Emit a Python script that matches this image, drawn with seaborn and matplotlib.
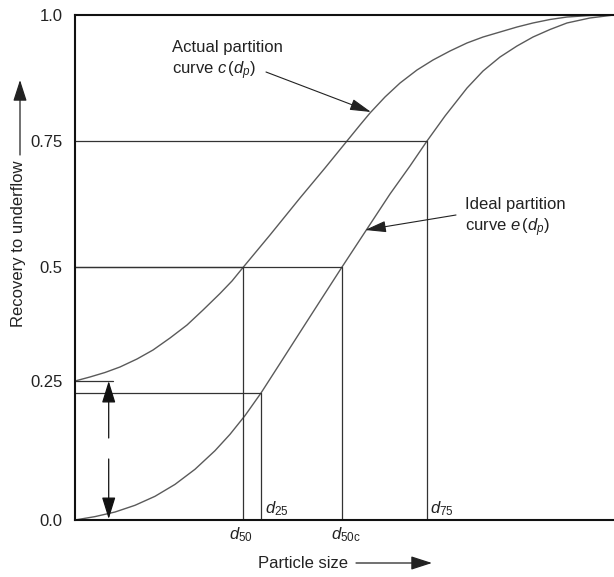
import matplotlib
matplotlib.use("Agg")
import matplotlib.pyplot as plt
import seaborn as sns
import pandas as pd

# ---- data (x in arbitrary particle-size units 0-100) ----
actual_x = [0, 2.78, 5.57, 8.35, 11.50, 14.47, 17.63, 20.78, 23.75, 26.90, 29.13, 31.17,
            36.18, 41.74, 46.38, 50.46, 52.88, 54.73, 57.51, 60.30, 63.45, 66.42, 69.57,
            72.73, 75.70, 78.85, 82.00, 84.97, 88.13, 91.28, 95.55, 100]
actual_y = [0.2752, 0.2832, 0.2921, 0.3030, 0.3188, 0.3366, 0.3604, 0.3861, 0.4158, 0.4485,
            0.4733, 0.5000, 0.5644, 0.6376, 0.6970, 0.7505, 0.7822, 0.8059, 0.8376, 0.8653,
            0.8911, 0.9109, 0.9287, 0.9446, 0.9564, 0.9663, 0.9762, 0.9842, 0.9911, 0.9960,
            0.9990, 1.0]
ideal_x = [0, 3.71, 7.42, 11.13, 14.84, 18.55, 22.26, 25.97, 28.76, 31.54, 34.51, 38.03,
           41.74, 45.45, 49.54, 54.17, 58.44, 62.15, 65.31, 68.65, 72.73, 75.70, 78.85,
           82.00, 84.97, 88.13, 91.28, 95.55, 100]
ideal_y = [0, 0.0067, 0.0158, 0.0291, 0.0469, 0.0705, 0.1004, 0.1372, 0.1697, 0.2067,
           0.2515, 0.3099, 0.3717, 0.4333, 0.5010, 0.5762, 0.6455, 0.7010, 0.7505, 0.8000,
           0.8554, 0.8891, 0.9168, 0.9386, 0.9564, 0.9713, 0.9842, 0.9941, 1.0]

d_names = ["d50", "d25", "d50c", "d75"]
d_values = [31.17, 34.51, 49.6, 65.31]
d_levels = [0.5, 0.2515, 0.5, 0.75]
rf_level = 0.2752

ytick_values = [0.0, 0.2752, 0.5, 0.75, 1.0]
ytick_labels = ["0.0", "0.25", "0.5", "0.75", "1.0"]

sns.set_theme(style="white")
plt.rcParams["font.family"] = ["Liberation Sans", "DejaVu Sans"]
plt.rcParams["mathtext.fontset"] = "custom"
plt.rcParams["mathtext.rm"] = "Liberation Sans"
plt.rcParams["mathtext.it"] = "Liberation Sans:italic"

FS = 12
TC = "#222222"
W, H = 614, 577
fig = plt.figure(figsize=(W / 100, H / 100), dpi=100)
ax = fig.add_axes([75 / W, 1 - 520 / H, 1 - 75 / W, (520 - 15) / H])

df = pd.concat([
    pd.DataFrame({"x": actual_x, "y": actual_y, "curve": "actual"}),
    pd.DataFrame({"x": ideal_x, "y": ideal_y, "curve": "ideal"}),
])
sns.lineplot(data=df, x="x", y="y", units="curve", estimator=None, sort=False,
             color="#5a5a5a", linewidth=1.0, ax=ax, legend=False)

ax.set_xlim(0, 100)
ax.set_ylim(0, 1)

lc = "#333333"
lw = 0.9
for xv, lv in zip(d_values, d_levels):
    ax.plot([0, xv], [lv, lv], color=lc, lw=lw)
    ax.plot([xv, xv], [0, lv], color=lc, lw=lw)
ax.plot([0, 7.05], [rf_level, rf_level], color=lc, lw=lw)

def dx(px):
    return (px - 75) / 5.39

def dy(py):
    return (520 - py) / 505

lab_pos = {"d50": (241, 535), "d25": (277, 509), "d50c": (346, 535), "d75": (442, 509)}
lab_txt = {"d50": r"$d_{\mathrm{50}}$", "d25": r"$d_{\mathrm{25}}$",
           "d50c": r"$d_{\mathrm{50c}}$", "d75": r"$d_{\mathrm{75}}$"}
for n in d_names:
    px, py = lab_pos[n]
    ax.text(dx(px), dy(py), lab_txt[n], ha="center", va="center", fontsize=FS,
            color=TC, clip_on=False)

ap = dict(arrowstyle="-|>,head_length=1.35,head_width=0.42", color="#111111", lw=0.9,
          mutation_scale=10, shrinkA=0, shrinkB=0)
ax.annotate("", xy=(dx(108.7), rf_level), xytext=(dx(108.7), dy(438)), arrowprops=ap)
ax.annotate("", xy=(dx(108.7), dy(519)), xytext=(dx(108.7), dy(459)), arrowprops=ap)

ap2 = dict(arrowstyle="-|>,head_length=1.3,head_width=0.35", color="#222222", lw=0.8,
           mutation_scale=10, shrinkA=0, shrinkB=0)
ax.text(dx(172), dy(48), "Actual partition", ha="left", va="center", fontsize=FS, color=TC)
ax.text(dx(172), dy(71), r"curve $c\,(d_p)$", ha="left", va="center", fontsize=FS, color=TC)
ax.annotate("", xy=(dx(371), dy(112)), xytext=(dx(266), dy(72)), arrowprops=ap2)

ax.text(dx(465), dy(205), "Ideal partition", ha="left", va="center", fontsize=FS, color=TC)
ax.text(dx(465), dy(228), r"curve $e\,(d_p)$", ha="left", va="center", fontsize=FS, color=TC)
ax.annotate("", xy=(dx(365), dy(230)), xytext=(dx(456), dy(215)), arrowprops=ap2)

ax.set_xticks([])
ax.set_yticks(ytick_values)
ax.set_yticklabels(ytick_labels, fontsize=FS, color=TC)
ax.tick_params(axis="y", length=0, pad=9)
ax.set_xlabel("")
ax.set_ylabel("")
for s in ["left", "top", "bottom"]:
    ax.spines[s].set_visible(True)
    ax.spines[s].set_color("#111111")
    ax.spines[s].set_linewidth(1.5)
ax.spines["right"].set_visible(False)

def fx(px):
    return px / W

def fy(py):
    return 1 - py / H

fig.text(fx(19), fy(244), "Recovery to underflow", rotation=90, ha="center", va="center",
         fontsize=FS, color=TC)
ap3 = dict(arrowstyle="-|>,head_length=1.3,head_width=0.42", color="#222222", lw=0.9,
           mutation_scale=10, shrinkA=0, shrinkB=0)
ax.annotate("", xy=(fx(20), fy(80)), xytext=(fx(20), fy(155)), xycoords="figure fraction",
            textcoords="figure fraction", arrowprops=ap3)
fig.text(fx(303), fy(563), "Particle size", ha="center", va="center", fontsize=FS, color=TC)
ax.annotate("", xy=(fx(432), fy(563)), xytext=(fx(356), fy(563)), xycoords="figure fraction",
            textcoords="figure fraction", arrowprops=ap3)

fig.savefig("out.png", dpi=100)
